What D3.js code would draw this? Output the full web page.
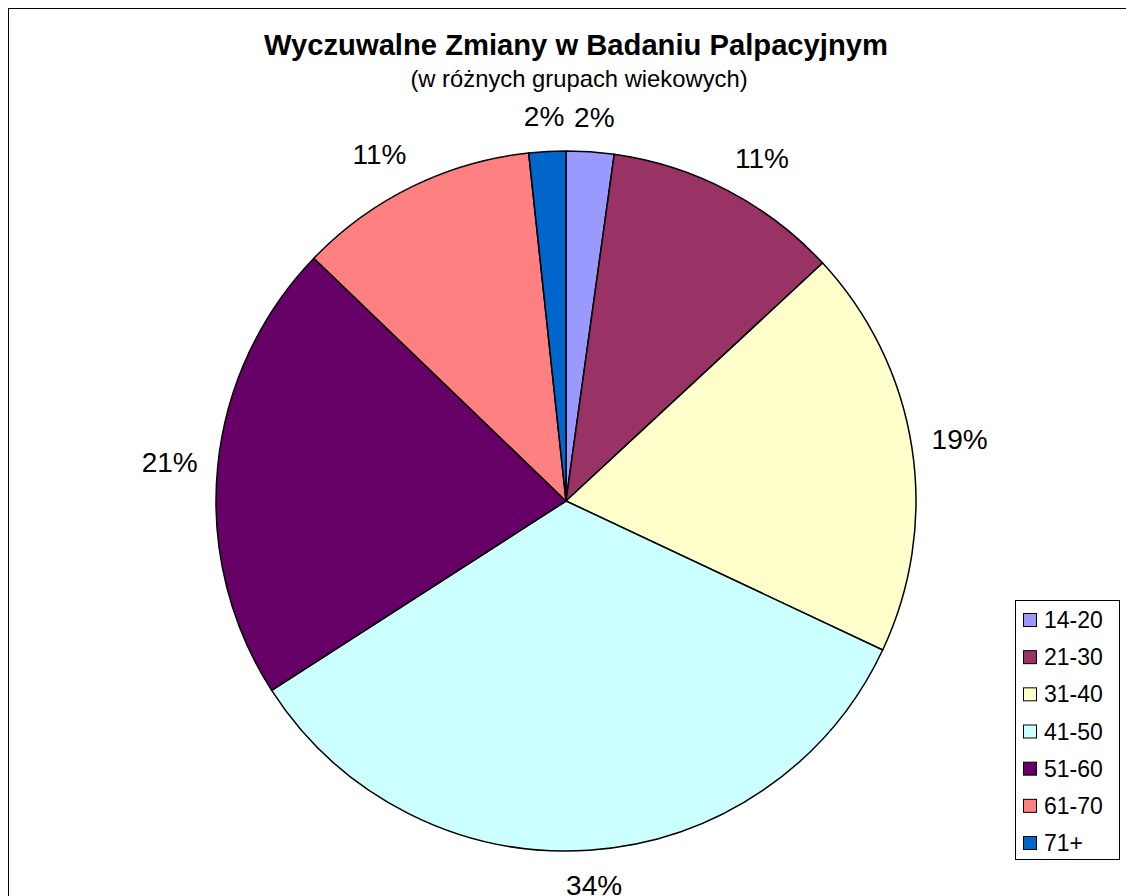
<!DOCTYPE html>
<html>
<head>
<meta charset="utf-8">
<script src="https://cdn.jsdelivr.net/npm/d3@7/dist/d3.min.js"></script>
<style>
  html, body { margin: 0; padding: 0; background: #fff; }
  svg { display: block; font-family: "Liberation Sans", Arial, sans-serif; }
</style>
</head>
<body>
<svg id="chart" width="1126" height="896"></svg>
<script>
const categories = ["14-20", "21-30", "31-40", "41-50", "51-60", "61-70", "71+"];
const values = [2.2, 10.9, 18.9, 33.9, 21.3, 11.1, 1.7];
const colors = ["#9999FF", "#993366", "#FFFFCC", "#CCFFFF", "#660066", "#FF8080", "#0066CC"];
const titleText = "Wyczuwalne Zmiany w Badaniu Palpacyjnym";
const subtitleText = "(w różnych grupach wiekowych)";

const W = 1126, H = 896;
const svg = d3.select("#chart");

// outer frame (extends past the visible area on right/bottom)
svg.append("rect")
  .attr("x", 8.5).attr("y", 8.5)
  .attr("width", 1200).attr("height", 1000)
  .attr("fill", "#fff").attr("stroke", "#000").attr("stroke-width", 1);

// title
svg.append("text")
  .attr("x", 576).attr("y", 55)
  .attr("text-anchor", "middle")
  .attr("font-size", 29.2).attr("font-weight", "bold")
  .text(titleText);
svg.append("text")
  .attr("x", 579).attr("y", 87)
  .attr("text-anchor", "middle")
  .attr("font-size", 23.8)
  .text(subtitleText);

const cx = 566, cy = 501, r = 350;
const total = d3.sum(values);
const data = categories.map((c, i) => ({ cat: c, value: values[i], color: colors[i] }));

const pie = d3.pie().sort(null).value(d => d.value).startAngle(0).endAngle(2 * Math.PI);
const arc = d3.arc().innerRadius(0).outerRadius(r);
const arcs = pie(data);

const g = svg.append("g").attr("transform", `translate(${cx},${cy})`);
g.selectAll("path.slice")
  .data(arcs)
  .join("path")
  .attr("class", "slice")
  .attr("d", arc)
  .attr("fill", d => d.data.color)
  .attr("stroke", "#000")
  .attr("stroke-width", 1.5)
  .attr("stroke-linejoin", "round");

// labels
const fmt = d3.format(".0%");
const R = r + 20, boxH = 30;
const clamp = v => Math.max(-1, Math.min(1, v));
g.selectAll("text.lbl")
  .data(arcs)
  .join("text")
  .attr("class", "lbl")
  .attr("font-size", 28)
  .attr("text-anchor", "middle")
  .attr("dy", "0.35em")
  .text(d => fmt(d.data.value / total))
  .each(function(d) {
    const w = this.getComputedTextLength();
    const a = (d.startAngle + d.endAngle) / 2;
    const s = Math.sin(a), c = Math.cos(a);
    const x = R * s + (w / 2) * clamp(2 * s);
    const y = -R * c - (boxH / 2) * clamp(2 * c);
    d3.select(this).attr("x", x).attr("y", y);
  });

// legend
const lg = svg.append("g");
lg.append("rect")
  .attr("x", 1015.5).attr("y", 600.5)
  .attr("width", 104).attr("height", 259)
  .attr("fill", "#fff").attr("stroke", "#000").attr("stroke-width", 1);
const ly = d3.scalePoint().domain(categories).range([620, 843]);
const items = lg.selectAll("g.item").data(data).join("g").attr("class", "item")
  .attr("transform", d => `translate(0,${ly(d.cat)})`);
items.append("rect")
  .attr("x", 1023.5).attr("y", -6.5)
  .attr("width", 13).attr("height", 13)
  .attr("fill", d => d.color).attr("stroke", "#000").attr("stroke-width", 1);
items.append("text")
  .attr("x", 1044).attr("dy", "0.35em")
  .attr("font-size", 23)
  .text(d => d.cat);
</script>
</body>
</html>
